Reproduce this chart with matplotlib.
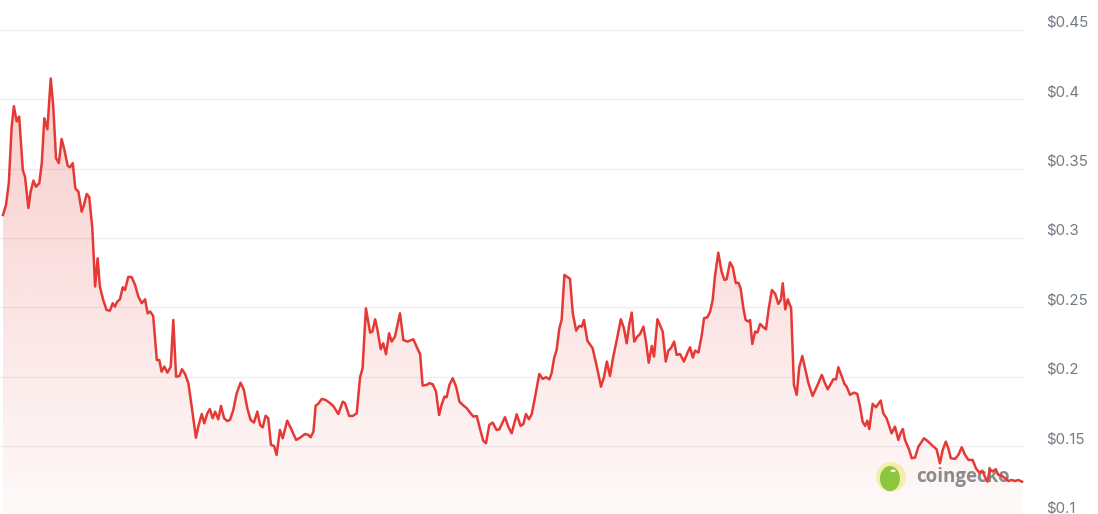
import numpy as np
import matplotlib
matplotlib.use("Agg")
import matplotlib.pyplot as plt
from matplotlib.transforms import ScaledTranslation
from matplotlib.patches import Circle, Ellipse

# days since start of the window, and price in USD
day = [
    0.0, 1.1, 2.1, 3.1, 3.9, 4.9, 5.8, 7.1, 7.9, 9.1, 9.9, 10.9, 11.8, 13.0, 13.9,
    14.8, 15.9, 17.1, 18.0, 19.0, 20.0, 21.0, 22.0, 23.2, 24.0, 25.0, 25.9, 27.0,
    28.2, 29.0, 30.0, 30.9, 32.0, 33.0, 33.9, 34.7, 35.9, 37.1, 38.3, 39.3, 40.1,
    40.9, 41.9, 42.9, 43.7, 44.9, 46.1, 47.3, 48.5, 49.7, 50.9, 51.8,
    52.7, 53.8, 55.1, 56.0, 56.8, 57.8, 58.9, 60.1, 61.0, 62.0, 63.2, 64.1, 65.2,
    66.4, 67.6, 69.1, 70.0, 71.2, 72.1, 73.2, 74.1, 75.1, 76.0, 77.1, 78.1, 79.2,
    80.3, 81.3, 82.5, 83.7, 85.1, 86.3, 87.5, 88.7, 89.9, 91.1, 92.1, 93.0, 94.1,
    95.0, 96.0, 97.1, 98.0, 99.2, 100.2, 101.8, 103.4, 105.0, 106.4, 108.2, 109.4,
    110.2, 111.2, 112.0, 112.9, 114.2, 115.6,
    117.1, 118.3, 120.1, 121.7, 122.5, 124.0, 125.3, 126.7, 127.9, 128.8, 130.0,
    131.5, 132.3, 133.3, 134.1, 135.3, 136.2, 137.2, 138.3, 139.2, 140.4, 142.2,
    143.4, 144.8, 145.8, 147.0, 148.4, 149.4, 150.3, 151.8, 152.7, 153.9, 155.1,
    156.2, 157.1, 158.1, 158.9, 159.9, 161.1, 162.3, 163.5, 164.7, 166.1, 167.3,
    168.5, 169.7, 170.9, 172.0, 173.0, 174.2, 175.4, 176.8, 177.8,
    179.8, 181.0, 182.2, 184.0, 185.4, 186.4, 187.3, 188.4, 189.4, 190.6, 192.1,
    193.3, 194.5, 195.7, 196.5, 197.4, 198.3, 199.3, 200.1, 201.1, 203.1, 204.1,
    205.3, 206.4, 207.3, 208.1, 209.3, 211.2, 212.7, 214.2, 215.3, 216.3, 217.4,
    218.6, 219.8, 221.3, 222.4, 223.4, 224.3, 225.2, 226.1, 227.2, 228.2, 229.4,
    230.3, 231.3, 232.4, 233.2, 234.4, 235.3, 236.3, 237.4, 238.3, 239.2, 240.4,
    241.3,
    242.5, 243.9, 245.1, 246.1, 247.1, 247.9, 249.1, 250.3, 251.1, 252.3, 253.3,
    254.2, 255.0, 256.2, 257.4, 258.4, 259.2, 260.4, 261.4, 262.5, 263.4, 264.2,
    265.2, 266.0, 267.0, 267.6, 268.4, 269.4, 270.2, 271.2, 272.4, 273.3, 274.3,
    275.4, 276.6, 277.7, 278.6, 279.3, 280.2, 281.1, 282.3, 283.3, 284.3, 285.2,
    286.3, 287.3, 288.5, 290.0, 291.5, 293.3, 294.2, 295.4, 296.5, 297.4, 298.4,
    299.2, 300.4, 301.4, 302.2,
    303.4, 304.8, 306.0, 307.0, 307.9, 308.8, 309.6, 310.3, 311.5, 312.7, 314.4,
    315.3, 316.5, 318.3, 319.5, 320.7, 321.5, 322.3, 323.1, 324.6, 325.5, 326.7,
    327.9, 329.9, 331.4, 333.0, 334.4, 335.6, 336.6, 337.7, 338.6, 339.5, 341.0,
    342.2, 343.4, 344.6, 345.8, 347.3, 348.5, 349.7, 350.8, 351.7, 352.6, 353.5,
    354.5, 355.6, 356.5, 357.7, 358.9, 360.1, 361.3, 362.5, 363.7, 365.0,
]
price = [
    0.3166, 0.324, 0.340, 0.380, 0.395, 0.384, 0.3875, 0.349, 0.344, 0.3216, 0.3334,
    0.3414, 0.337, 0.3395, 0.354, 0.3863, 0.3784, 0.415, 0.395, 0.3575, 0.354, 0.3714,
    0.3635, 0.352, 0.351, 0.354, 0.3359, 0.3334, 0.319, 0.3238, 0.3318, 0.3294, 0.307,
    0.265, 0.2854, 0.265, 0.2553, 0.2481, 0.2476, 0.253, 0.2505, 0.2541, 0.2558,
    0.2645, 0.2625, 0.2721, 0.2717, 0.2662, 0.2577, 0.253, 0.2558, 0.2457,
    0.247, 0.2438, 0.212, 0.212, 0.2036, 0.2073, 0.2029, 0.2073, 0.2409, 0.200,
    0.2005, 0.2054, 0.202, 0.1953, 0.1784, 0.156, 0.1645, 0.1731, 0.1664, 0.1736,
    0.1767, 0.170, 0.1748, 0.1693, 0.1789, 0.170, 0.1681, 0.1688, 0.176, 0.188,
    0.1957, 0.1904, 0.1773, 0.1688, 0.1669, 0.1748, 0.1652, 0.1635, 0.1719, 0.170,
    0.1508, 0.150, 0.1436, 0.1616, 0.1556, 0.1683, 0.1616, 0.1544, 0.156, 0.1587,
    0.158, 0.1563, 0.1604, 0.1791, 0.1804, 0.184, 0.1832,
    0.181, 0.1789, 0.1731, 0.182, 0.1809, 0.1717, 0.1717, 0.1736, 0.1996, 0.2061,
    0.2493, 0.2318, 0.2325, 0.2414, 0.2342, 0.2198, 0.2241, 0.2162, 0.2313, 0.2253,
    0.2289, 0.2457, 0.2265, 0.2253, 0.226, 0.227, 0.2205, 0.2164, 0.1936, 0.1941,
    0.1953, 0.1946, 0.1893, 0.1724, 0.1796, 0.1856, 0.1852, 0.1941, 0.1989, 0.1928,
    0.182, 0.1796, 0.1773, 0.1741, 0.1712, 0.1717, 0.1621, 0.1539, 0.152, 0.1652,
    0.1669, 0.1616, 0.1621,
    0.1708, 0.164, 0.1592, 0.1729, 0.1645, 0.1659, 0.1731, 0.1693, 0.1731, 0.1856,
    0.202, 0.1984, 0.1996, 0.1981, 0.2025, 0.2133, 0.2193, 0.235, 0.2409, 0.2734,
    0.2705, 0.2457, 0.2332, 0.2366, 0.2361, 0.2409, 0.226, 0.2205, 0.2073, 0.1928,
    0.200, 0.2109, 0.2005, 0.2145, 0.226, 0.2414, 0.235, 0.2241, 0.2373, 0.2462,
    0.2253, 0.2289, 0.2308, 0.2361, 0.2253, 0.2101, 0.2222, 0.2145, 0.2414, 0.2373,
    0.2325, 0.2109, 0.2188, 0.2205, 0.2253, 0.2157,
    0.2164, 0.2109, 0.2169, 0.2212, 0.2137, 0.2188, 0.2174, 0.2301, 0.2421, 0.2428,
    0.2469, 0.2553, 0.2721, 0.2894, 0.2757, 0.2698, 0.2703, 0.2825, 0.2789, 0.2674,
    0.2678, 0.2638, 0.2493, 0.2409, 0.2397, 0.2409, 0.2236, 0.2325, 0.2318, 0.238,
    0.2356, 0.2342, 0.2493, 0.2625, 0.2597, 0.2525, 0.2553, 0.2674, 0.2486, 0.2558,
    0.2493, 0.1941, 0.1869, 0.2068, 0.2149, 0.2061, 0.1953, 0.1861, 0.1928, 0.2013,
    0.1964, 0.1909, 0.1948, 0.1981, 0.1981, 0.2068, 0.2005, 0.1948, 0.1928,
    0.1869, 0.1885, 0.1876, 0.1784, 0.1676, 0.1645, 0.1683, 0.1623, 0.1804, 0.178,
    0.1828, 0.1736, 0.170, 0.1592, 0.164, 0.1544, 0.1592, 0.1623, 0.1544, 0.1472,
    0.1412, 0.1417, 0.1496, 0.1556, 0.1532, 0.1501, 0.1477, 0.1376, 0.1472, 0.1532,
    0.1484, 0.1412, 0.1407, 0.1436, 0.1491, 0.1436, 0.140, 0.140, 0.134, 0.1308,
    0.1322, 0.1279, 0.1243, 0.1333, 0.1316, 0.1333, 0.1292, 0.1287, 0.1268, 0.1248,
    0.1255, 0.1248, 0.1255, 0.1243,
]

yticks = [0.1, 0.15, 0.2, 0.25, 0.3, 0.35, 0.4, 0.45]
ytick_labels = ["$0.1", "$0.15", "$0.2", "$0.25", "$0.3", "$0.35", "$0.4", "$0.45"]

RED = "#e53935"

fig = plt.figure(figsize=(10.98, 5.14), dpi=100)
ax = fig.add_axes([0, 0, 1025 / 1098, 1])
ax.set_xlim(-1.07, 366.07)
ax.set_ylim(0.101, 0.4716)
for s in ax.spines.values():
    s.set_visible(False)
ax.set_xticks([])
ax.set_yticks([])

# grid
for v in yticks:
    ax.axhline(v, color="#efefef", lw=1.0, zorder=0)

# labels on the right, sitting a bit above their grid line
off = ScaledTranslation(0, 7 / 100, fig.dpi_scale_trans)
for v, lab in zip(yticks, ytick_labels):
    ax.text(1.0205, v, lab, transform=ax.get_yaxis_transform() + off,
            ha="left", va="center", fontsize=10.8, color="#717a84",
            family="Inter", clip_on=False)

# gradient fill under the line
x = np.array(day)
y = np.array(price)
ybot = ax.get_ylim()[0]
poly = ax.fill_between(x, y, ybot, facecolor="none", edgecolor="none")
grad = np.zeros((256, 1, 4))
grad[:, 0, 0:3] = matplotlib.colors.to_rgb(RED)
grad[:, 0, 3] = np.linspace(0.25, 0.03, 256)
im = ax.imshow(grad, aspect="auto", origin="upper",
               extent=[x.min(), x.max(), ybot, y.max()], zorder=1,
               interpolation="bilinear")
im.set_clip_path(poly.get_paths()[0], transform=ax.transData)
ax.set_xlim(-1.07, 366.07)
ax.set_ylim(0.101, 0.4716)

# watermark
wx, wy = 891 / 1025, (514 - 477) / 514
ax.add_patch(Ellipse((wx, wy), 30 / 1025, 30 / 514, transform=ax.transAxes,
                     facecolor="#f7ecb0", edgecolor="none", zorder=2))
ax.add_patch(Ellipse((wx - 0.001, wy - 0.003), 20 / 1025, 25 / 514,
                     transform=ax.transAxes, facecolor="#8cc63f",
                     edgecolor="none", zorder=2))
ax.add_patch(Circle((wx + 0.002, wy + 0.012), 0.0025, transform=ax.transAxes,
                    facecolor="white", edgecolor="none", zorder=2))
ax.text(916 / 1025, wy, "coingecko", transform=ax.transAxes, ha="left",
        va="center", fontsize=13.5, fontweight="bold", color="#8b8b8b",
        family="Open Sans", zorder=2)

ax.plot(x, y, color=RED, lw=1.8, zorder=3, solid_joinstyle="round")

fig.savefig("out.png", dpi=100)
